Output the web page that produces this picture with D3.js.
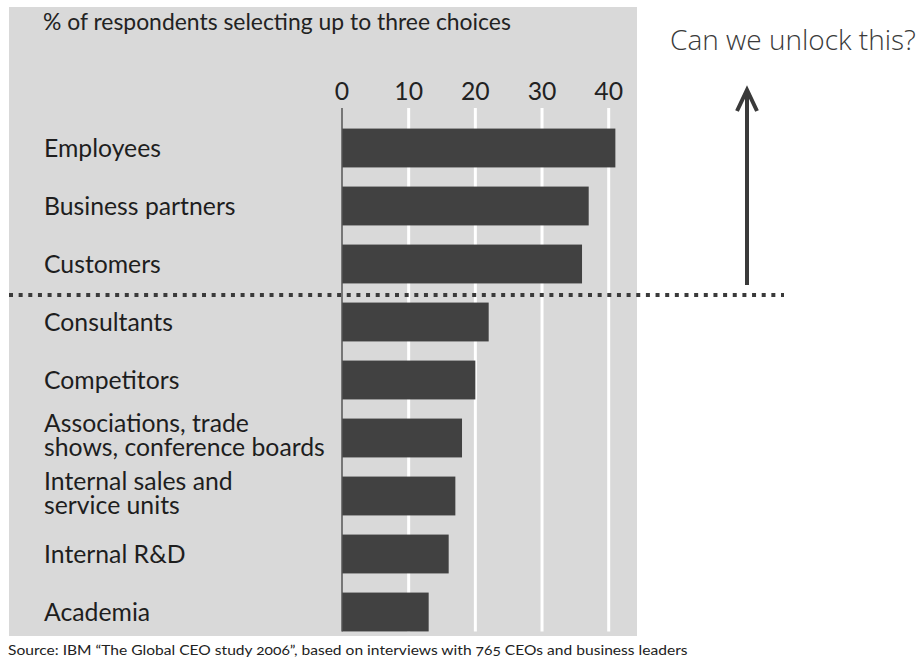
<!DOCTYPE html>
<html><head><meta charset="utf-8">
<script src="https://cdn.jsdelivr.net/npm/d3@7"></script>
<style>body{margin:0;background:#fff}svg{display:block}</style>
</head><body>
<svg id="chart" width="917" height="662"></svg>
<script>
// ---- data ----
const categories = ["Employees", "Business partners", "Customers", "Consultants", "Competitors",
  "Associations, trade\nshows, conference boards", "Internal sales and\nservice units", "Internal R&D", "Academia"];
const values = [41, 37, 36, 22, 20, 18, 17, 16, 13];
const tickValues = [0, 10, 20, 30, 40];
const titleText = "% of respondents selecting up to three choices";
const annotationText = "Can we unlock this?";
const sourceText = "Source: IBM \u201CThe Global CEO study 2006\u201D, based on interviews with 765 CEOs and business leaders";
const splitAfter = "Customers";

// ---- drawing ----
const svg = d3.select("#chart");
const labelFont = "Lato, 'Open Sans', sans-serif";

svg.append("rect").attr("x", 9).attr("y", 7).attr("width", 628).attr("height", 629).attr("fill", "#d9d9d9");

const x = d3.scaleLinear().domain([0, 40]).range([342, 608.7]);
const y = d3.scaleBand().domain(categories).range([119, 641]).paddingInner(0.33).paddingOuter(0.165);

const gridTop = 108, gridBottom = y(categories[categories.length - 1]) + y.bandwidth();

// gridlines
svg.append("g").selectAll("line").data(tickValues.filter(d => d !== 0)).join("line")
  .attr("x1", d => x(d)).attr("x2", d => x(d)).attr("y1", gridTop).attr("y2", gridBottom)
  .attr("stroke", "#fff").attr("stroke-width", 3);

// bars
svg.append("g").selectAll("rect").data(categories).join("rect")
  .attr("x", x(0)).attr("y", d => y(d)).attr("height", y.bandwidth())
  .attr("width", (d, i) => x(values[i]) - x(0)).attr("fill", "#414141");

// zero line
svg.append("line").attr("x1", x(0)).attr("x2", x(0)).attr("y1", gridTop).attr("y2", gridBottom)
  .attr("stroke", "#555").attr("stroke-width", 1.5);

// category labels (one text per category, lines as tspans)
const labelG = svg.append("g");
const labels = labelG.selectAll("text").data(categories).join("text")
  .attr("font-family", labelFont).attr("font-size", 25).attr("fill", "#1e1e1e");
labels.each(function (d) {
  const lines = d.split("\n");
  const t = d3.select(this);
  lines.forEach((ln, k) => {
    t.append("tspan").attr("x", 0).attr("dy", k === 0 ? 0 : 24).text(ln);
  });
});
let maxW = 0;
labelG.selectAll("tspan").each(function () { maxW = Math.max(maxW, this.getComputedTextLength()); });
const sx = 281 / maxW;
labels.attr("transform", d => {
  const n = d.split("\n").length;
  const cy = y(d) + y.bandwidth() / 2;
  const by = n === 1 ? cy + 9 : cy - 6;
  return `translate(44,${by}) scale(${sx},1)`;
});

// top axis labels
const axis = svg.append("g").attr("transform", "translate(0,100)")
  .call(d3.axisTop(x).tickValues(tickValues).tickSize(0).tickPadding(0));
axis.select(".domain").remove();
axis.selectAll(".tick").attr("transform", null);
axis.selectAll(".tick text")
  .attr("font-family", labelFont).attr("font-size", 25).attr("fill", "#222")
  .attr("x", d => x(d) / sx).attr("transform", `scale(${sx},1)`);

// title
const title = svg.append("text").text(titleText).attr("font-family", labelFont).attr("font-size", 24).attr("fill", "#222");
const tw = title.node().getComputedTextLength();
title.attr("transform", `translate(43,30) scale(${468 / tw},1)`);

// split dotted line
const splitIdx = categories.indexOf(splitAfter);
const splitY = (y(categories[splitIdx]) + y.bandwidth() + y(categories[splitIdx + 1])) / 2 + 2;
svg.append("line").attr("x1", 9).attr("x2", 784).attr("y1", splitY).attr("y2", splitY)
  .attr("stroke", "#3a3a3a").attr("stroke-width", 4).attr("stroke-dasharray", "4,5.65");

// arrow
const arrowX = 747;
svg.append("line").attr("x1", arrowX).attr("x2", arrowX).attr("y1", splitY - 10).attr("y2", 90)
  .attr("stroke", "#3a3a3a").attr("stroke-width", 4);
svg.append("path").attr("d", `M${arrowX - 10},111 L${arrowX},90 L${arrowX + 10},111`)
  .attr("fill", "none").attr("stroke", "#3a3a3a").attr("stroke-width", 4).attr("stroke-linejoin", "miter");

// annotation
const ann = svg.append("text").text(annotationText).attr("font-family", "'Open Sans', sans-serif")
  .attr("font-size", 27).attr("font-weight", 300).attr("fill", "#3a3a3a");
const aw = ann.node().getComputedTextLength();
ann.attr("transform", `translate(670,50) scale(${246 / aw},1)`);

// source
const src = svg.append("text").text(sourceText).attr("font-family", labelFont)
  .attr("font-size", 13).attr("fill", "#222").style("font-variant-numeric", "oldstyle-nums");
const sw = src.node().getComputedTextLength();
src.attr("transform", `translate(8,655) scale(${680 / sw},1)`);
</script>
</body></html>
